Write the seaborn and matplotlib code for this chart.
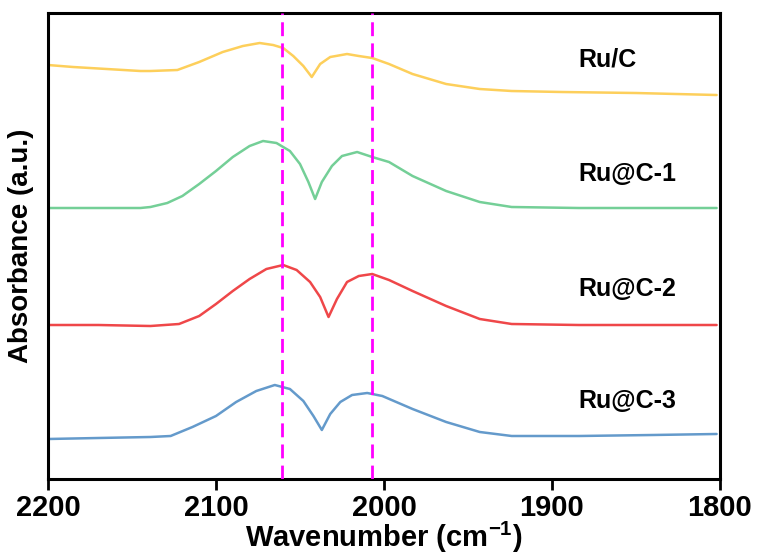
import numpy as np
import pandas as pd
import matplotlib
matplotlib.use("Agg")
import matplotlib.pyplot as plt
import seaborn as sns

# Wavenumber positions (cm-1) and absorbance values (arbitrary units, offset-stacked)
wn_ruc = [2200, 2185, 2145, 2139, 2123, 2110, 2096, 2084, 2074, 2066, 2060, 2054,
          2048, 2043, 2038, 2032, 2022, 2015, 2007, 1997, 1983, 1963, 1943,
          1924, 1894, 1850, 1802]
ab_ruc = [414, 412, 408, 408, 409, 417, 427, 433, 436, 434, 431, 423,
          413, 402, 415, 422, 425, 423, 421, 415, 405, 395, 390,
          388, 387, 386, 384]

wn_c1 = [2200, 2170, 2145, 2139, 2129, 2120, 2110, 2100, 2090, 2080, 2072, 2064,
         2056, 2050, 2045, 2041, 2037, 2031, 2025, 2016, 2007, 1997, 1983,
         1963, 1943, 1924, 1884, 1840, 1802]
ab_c1 = [271, 271, 271, 272, 276, 283, 295, 308, 322, 333, 338, 336,
         328, 315, 297, 280, 297, 313, 323, 327, 322, 317, 303,
         288, 277, 272, 271, 271, 271]

wn_c2 = [2200, 2170, 2139, 2122, 2110, 2100, 2090, 2080, 2070, 2060, 2052,
         2044, 2038, 2033, 2028, 2022, 2015, 2007, 1997, 1983, 1963, 1943,
         1924, 1884, 1840, 1802]
ab_c2 = [154, 154, 153, 155, 163, 175, 188, 200, 210, 214, 209,
         197, 182, 162, 180, 197, 203, 205, 199, 188, 173, 160,
         155, 154, 154, 154]

wn_c3 = [2200, 2170, 2139, 2127, 2114, 2100, 2088, 2076, 2065, 2056, 2048,
         2042, 2037, 2032, 2026, 2019, 2010, 2001, 1983, 1963, 1943,
         1924, 1884, 1840, 1802]
ab_c3 = [40, 41, 42, 43, 52, 63, 77, 88, 94, 90, 78,
         63, 49, 65, 77, 84, 86, 83, 70, 57, 47,
         43, 43, 44, 45]

labels = ["Ru/C", "Ru@C-1", "Ru@C-2", "Ru@C-3"]
colors = ["#FDCF5B", "#74CF97", "#EF4749", "#649ACB"]
label_y = [420, 305, 190, 78]
vlines = [2061, 2007]

sns.set_theme(style="white")
plt.rcParams["font.family"] = ["Liberation Sans", "DejaVu Sans"]
plt.rcParams["font.weight"] = "bold"
plt.rcParams["text.color"] = "black"
plt.rcParams["axes.labelcolor"] = "black"
plt.rcParams["xtick.color"] = "black"
plt.rcParams["mathtext.fontset"] = "custom"
plt.rcParams["mathtext.rm"] = "Liberation Sans:bold"
plt.rcParams["mathtext.bf"] = "Liberation Sans:bold"
plt.rcParams["mathtext.default"] = "bf"

frames = []
for lab, wn, ab in zip(labels, [wn_ruc, wn_c1, wn_c2, wn_c3], [ab_ruc, ab_c1, ab_c2, ab_c3]):
    frames.append(pd.DataFrame({"wn": wn, "ab": ab, "sample": lab}))
df = pd.concat(frames, ignore_index=True)

fig = plt.figure(figsize=(7.57, 5.56), dpi=100)
ax = fig.add_axes([0.0634, 0.1385, 0.8877, 0.8381])

sns.lineplot(data=df, x="wn", y="ab", hue="sample", palette=colors,
             hue_order=labels, sort=False, estimator=None, linewidth=1.8,
             legend=False, ax=ax)

for v in vlines:
    ax.axvline(v, color="#FF00FF", linewidth=2.0, linestyle=(0, (5, 2.6)), zorder=3)

for lab, y in zip(labels, label_y):
    ax.text(1884, y, lab, fontsize=18, fontweight="bold", va="center", ha="left",
            color="black")

ax.set_xlim(2200, 1800)
ax.set_ylim(0, 466)
ax.set_xticks([2200, 2100, 2000, 1900, 1800])
ax.set_yticks([])
ax.tick_params(axis="x", direction="out", length=8, width=2, labelsize=21, pad=3,
               bottom=True, colors="black")
for t in ax.get_xticklabels():
    t.set_fontweight("bold")
for s in ax.spines.values():
    s.set_linewidth(2.2)
    s.set_color("black")

ax.set_xlabel("Wavenumber (cm$^{-1}$)", fontsize=21, fontweight="bold", labelpad=-2)
ax.set_ylabel("Absorbance (a.u.)", fontsize=20, fontweight="bold", labelpad=10)

fig.savefig("out.png", dpi=100)
